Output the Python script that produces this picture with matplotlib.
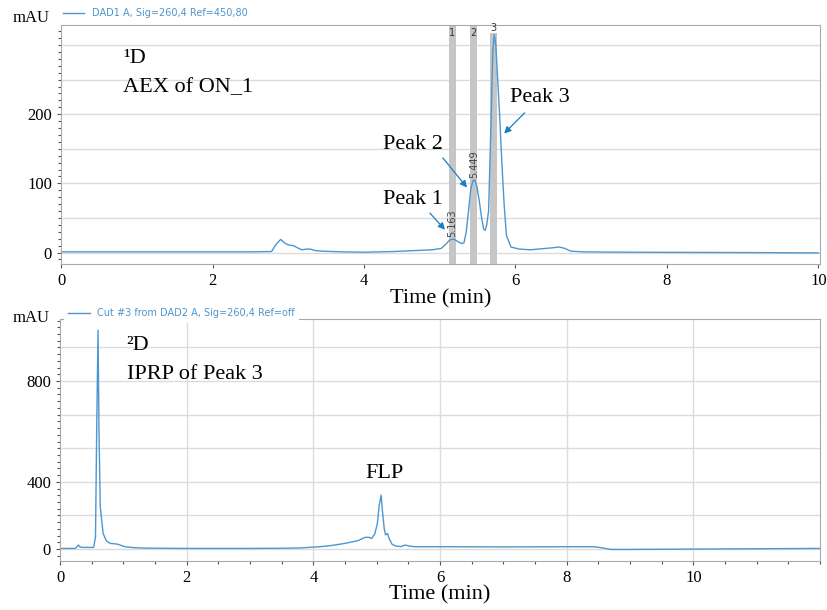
import matplotlib
matplotlib.use("Agg")
import matplotlib.pyplot as plt
from matplotlib.ticker import MultipleLocator, FixedLocator

plt.rcParams['font.family'] = ['Liberation Serif', 'DejaVu Serif']

# 1D trace (AEX of ON_1), time in min, signal in mAU
t1 = [0, 2.5, 2.78, 2.84, 2.90, 2.95, 3.00, 3.07, 3.12, 3.18, 3.24, 3.29, 3.35,
      3.45, 3.7, 4.0, 4.4, 4.7, 4.9, 5.02, 5.08, 5.13, 5.17, 5.21, 5.25, 5.29,
      5.32, 5.35, 5.38, 5.41, 5.44, 5.46, 5.49, 5.52, 5.55, 5.58, 5.60, 5.62,
      5.645, 5.68, 5.70, 5.72, 5.74, 5.76, 5.79, 5.82, 5.85, 5.88, 5.94, 6.05,
      6.2, 6.4, 6.5, 6.58, 6.65, 6.73, 6.9, 7.3, 8, 9, 10]
a1 = [1, 1, 1.5, 12, 19, 14, 11, 10, 7, 4, 5, 5, 3,
      2, 1, 0.5, 1.5, 3, 4, 6, 12, 18, 19.5, 18, 15, 13,
      14, 30, 60, 92, 104, 105, 96, 76, 52, 34, 32, 40,
      60, 200, 290, 315, 300, 260, 200, 130, 70, 25, 8, 5,
      4, 6, 7, 8, 6, 2, 1, 0.6, 0.3, 0, -0.5]

# integration marks of the 1D peaks
peak_rt = [5.163, 5.449, 5.71]
peak_no = ['1', '2', '3']
rt_labels = ['5.163', '5.449']
rt_label_y = [22, 108]

# 2D trace (IPRP of Peak 3)
t2 = [0, 0.24, 0.27, 0.29, 0.32, 0.36, 0.53, 0.56, 0.58, 0.60, 0.615, 0.635,
      0.68, 0.73, 0.79, 0.9, 1.03, 1.15, 1.32, 1.6, 1.95, 2.5, 3.0, 3.5, 3.8,
      4.1, 4.3, 4.5, 4.7, 4.82, 4.88, 4.92, 4.97, 5.01, 5.04, 5.07, 5.09, 5.12,
      5.14, 5.17, 5.20, 5.24, 5.30, 5.38, 5.45, 5.52, 5.6, 5.8, 6.2, 7, 8, 8.43,
      8.55, 8.7, 9, 10, 11, 12]
a2 = [4, 4, 14, 24, 12, 10, 10, 73, 750, 1303, 708, 252,
      93, 50, 34, 30, 14, 9, 6, 5, 4, 4, 4, 5, 7,
      14, 22, 34, 50, 70, 70, 63, 90, 150, 260, 321, 230, 120,
      85, 93, 60, 30, 18, 15, 24, 18, 14, 14, 14, 13, 14, 14,
      8, -2, -2, 0, 2, 4]

# tick labels as printed in the source figure
y2_tick_pos = [0, 400, 1000]
y2_tick_lab = ['0', '400', '800']

line_c = '#4d96cf'
arrow_c = '#1a7fc1'
grid_c = '#dcdcdc'
spine_c = '#a9a9a9'

fig = plt.figure(figsize=(8.27, 6.10), dpi=100)
ax1 = fig.add_axes([0.0738, 0.5667, 0.9177, 0.3923])
ax2 = fig.add_axes([0.0726, 0.0811, 0.9189, 0.3959])

for ax in (ax1, ax2):
    for s in ax.spines.values():
        s.set_color(spine_c)
    ax.tick_params(which='both', direction='out', color='#555555', labelsize=12,
                   length=3, width=0.8)
    ax.tick_params(which='minor', length=2)
    ax.set_axisbelow(True)

# ---- top panel
ax1.set_xlim(0, 10.02)
ax1.set_ylim(-17, 329)
ax1.xaxis.set_major_locator(MultipleLocator(2))
ax1.yaxis.set_major_locator(FixedLocator([0, 100, 200]))
ax1.yaxis.set_minor_locator(MultipleLocator(10))
for g in range(0, 330, 50):
    ax1.axhline(g, color=grid_c, lw=1, zorder=0)

for rt, no in zip(peak_rt, peak_no):
    top = 1.0 if no != '3' else 0.965
    ax1.axvspan(rt - 0.046, rt + 0.046, ymin=0, ymax=top, color='#c6c6c6', lw=0, zorder=1)
    ax1.text(rt, 318 if no != '3' else 324, no, ha='center', va='center',
             fontsize=7, family='DejaVu Sans', color='#333333', zorder=3)
for rt, lab, yy in zip(peak_rt, rt_labels, rt_label_y):
    ax1.text(rt, yy, lab, rotation=90, ha='center', va='bottom', fontsize=7,
             family='DejaVu Sans', color='#444444', zorder=3)

ax1.plot(t1, a1, color=line_c, lw=1.0, zorder=2, label='DAD1 A, Sig=260,4 Ref=450,80')

ax1.text(0.82, 281, '¹D', fontsize=16, va='center')
ax1.text(0.82, 238, 'AEX of ON_1', fontsize=16, va='center')
ax1.text(4.25, 76, 'Peak 1', fontsize=16, va='center')
ax1.text(4.25, 156, 'Peak 2', fontsize=16, va='center')
ax1.text(5.93, 224, 'Peak 3', fontsize=16, va='center')
arrows = [((4.87, 57), (5.07, 33)), ((5.04, 137), (5.36, 94)), ((6.12, 202), (5.85, 172))]
for tail, head in arrows:
    ax1.annotate('', xy=head, xytext=tail,
                 arrowprops=dict(arrowstyle='-|>', color=arrow_c, lw=0.9,
                                 mutation_scale=10, shrinkA=0, shrinkB=0))
ax1.set_xlabel('Time (min)', fontsize=16, labelpad=0)

leg1 = ax1.legend(loc='lower left', bbox_to_anchor=(-0.003, 1.012), frameon=False,
                  handlelength=2.2, borderaxespad=0, prop={'family': 'DejaVu Sans', 'size': 7},
                  labelcolor=line_c)

# ---- bottom panel
ax2.set_xlim(0, 12)
ax2.set_ylim(-68, 1369)
ax2.xaxis.set_major_locator(FixedLocator([0, 2, 4, 6, 8, 10]))
ax2.xaxis.set_minor_locator(MultipleLocator(0.5))
ax2.yaxis.set_major_locator(FixedLocator(y2_tick_pos))
ax2.set_yticklabels(y2_tick_lab)
ax2.yaxis.set_minor_locator(MultipleLocator(40))
for g in range(0, 1370, 200):
    ax2.axhline(g, color=grid_c, lw=1, zorder=0)
for g in range(2, 12, 2):
    ax2.axvline(g, color=grid_c, lw=1, zorder=0)

ax2.plot(t2, a2, color=line_c, lw=1.0, zorder=2, label='Cut #3 from DAD2 A, Sig=260,4 Ref=off')
ax2.text(1.05, 1214, '²D', fontsize=16, va='center')
ax2.text(1.05, 1036, 'IPRP of Peak 3', fontsize=16, va='center')
ax2.text(4.82, 452, 'FLP', fontsize=16, va='center')
ax2.set_xlabel('Time (min)', fontsize=16, labelpad=0)

leg2 = ax2.legend(loc='lower left', bbox_to_anchor=(0.005, 0.985), frameon=True,
                  handlelength=2.2, borderaxespad=0, borderpad=0.45,
                  prop={'family': 'DejaVu Sans', 'size': 7}, labelcolor=line_c)
leg2.get_frame().set_facecolor('white')
leg2.get_frame().set_edgecolor('none')
leg2.get_frame().set_alpha(1)
leg2.set_zorder(5)

fig.text(0.015, 0.970, 'mAU', fontsize=12, va='center')
fig.text(0.015, 0.478, 'mAU', fontsize=12, va='center')

fig.savefig('out.png', dpi=100)
